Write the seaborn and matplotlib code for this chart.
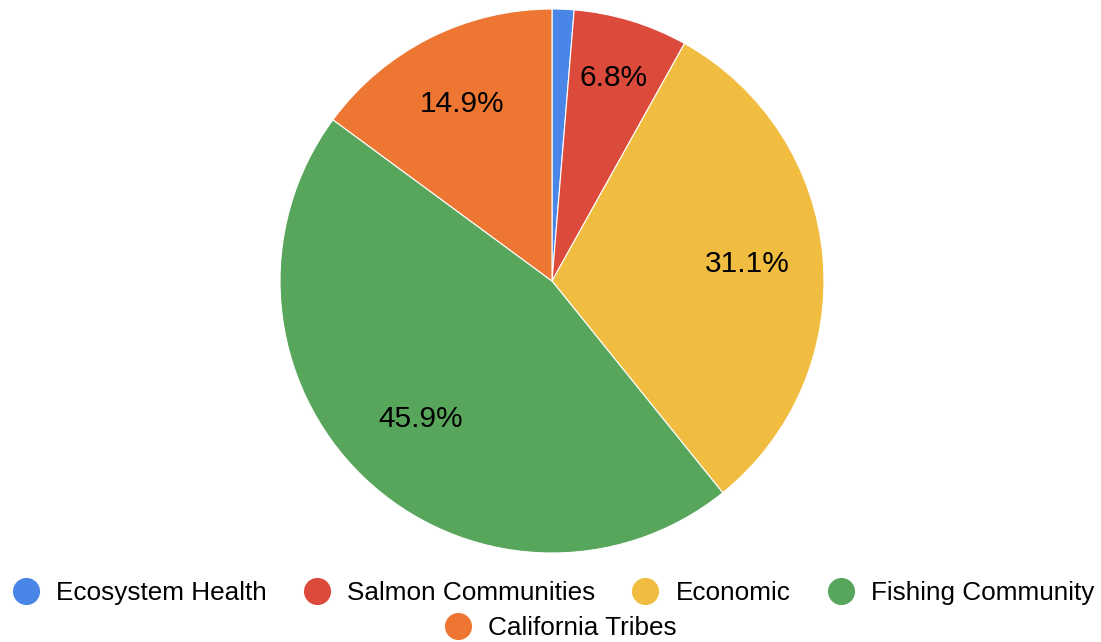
import matplotlib
matplotlib.use("Agg")
import matplotlib.pyplot as plt
import seaborn as sns
import numpy as np
from matplotlib.lines import Line2D

categories = ["Ecosystem Health", "Salmon Communities", "Economic", "Fishing Community", "California Tribes"]
values = [1.3, 6.8, 31.1, 45.9, 14.9]
colors = ["#4a86e8", "#db4a3b", "#f1bd41", "#58a65c", "#ed7632"]
label_dist = [0.72, 0.78, 0.72, 0.70, 0.73]

sns.set_theme(style="white")
plt.rcParams['font.family'] = ['Liberation Sans', 'DejaVu Sans']

fig = plt.figure(figsize=(11.01, 6.42), dpi=100)
W, H = 1101, 642
cx, cy, r = 552, 281, 272
ax = fig.add_axes([(cx - r) / W, (H - cy - r) / H, 2 * r / W, 2 * r / H])

def fmt(p):
    return f"{p:.1f}%" if p > 3 else ""

wedges, texts, autotexts = ax.pie(
    values, colors=colors, startangle=90, counterclock=False,
    autopct=fmt, pctdistance=0.72, radius=1,
    wedgeprops=dict(linewidth=0.8, edgecolor="white"),
    textprops=dict(fontsize=21.5, color="black"))
for w, t, d in zip(wedges, autotexts, label_dist):
    ang = np.deg2rad((w.theta1 + w.theta2) / 2)
    t.set_position((d * np.cos(ang), d * np.sin(ang)))
ax.set_xlim(-1, 1)
ax.set_ylim(-1, 1)
ax.axis("off")

def handle(c):
    return Line2D([0], [0], marker="o", linestyle="none", markersize=18.5,
                  markerfacecolor=c, markeredgecolor=c)

common = dict(loc="center", frameon=False, fontsize=18.8, handlelength=1.2,
              handletextpad=0.55, columnspacing=1.33, borderaxespad=0, labelcolor="black")
leg1 = fig.legend([handle(c) for c in colors[:4]], categories[:4],
                  bbox_to_anchor=(552 / W, 1 - 593 / H), ncol=4, **common)
leg2 = fig.legend([handle(colors[4])], categories[4:],
                  bbox_to_anchor=(559 / W, 1 - 628 / H), ncol=1, **common)

fig.savefig("out.png", dpi=100, facecolor="white")
